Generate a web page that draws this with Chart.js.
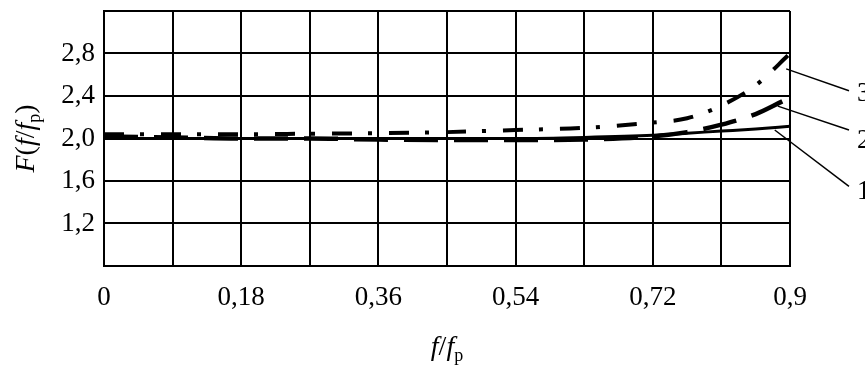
<!DOCTYPE html>
<html>
<head>
<meta charset="utf-8">
<script src="https://cdn.jsdelivr.net/npm/chart.js@4.4.1/dist/chart.umd.min.js"></script>
<style>
  html, body { margin: 0; padding: 0; background: #fff; }
  #wrap { width: 865px; height: 369px; }
</style>
</head>
<body>
<div id="wrap"><canvas id="chart" width="865" height="369"></canvas></div>
<script>
// curves, F(f/fp) against f/fp
var xValues = [0, 0.09, 0.18, 0.27, 0.36, 0.45, 0.54, 0.63, 0.72, 0.765, 0.81, 0.855, 0.9];
var curve1 = [2.0, 2.0, 2.0, 2.0, 2.0, 2.0, 2.0, 2.01, 2.03, 2.05, 2.07, 2.09, 2.115];
var xValues2 = [0, 0.09, 0.18, 0.27, 0.36, 0.45, 0.54, 0.63, 0.72, 0.765, 0.81, 0.855, 0.89];
var curve2 = [2.02, 2.01, 2.0, 2.0, 1.99, 1.985, 1.985, 1.99, 2.02, 2.06, 2.13, 2.23, 2.35];
var curve3 = [2.04, 2.04, 2.04, 2.045, 2.05, 2.06, 2.08, 2.1, 2.15, 2.19, 2.31, 2.5, 2.8];

var xTickLabels = ['0', '0,18', '0,36', '0,54', '0,72', '0,9'];
var yTickLabels = ['', '1,2', '1,6', '2,0', '2,4', '2,8', ''];

// curve numbers on the right and where their leader lines start (data units)
var curveNames = ['1', '2', '3'];
var leaderFromX = [0.88, 0.884, 0.895];
var leaderFromY = [2.08, 2.305, 2.655];
var leaderToY = [1.55, 2.08, 2.45];
var nameY = [1.5, 1.98, 2.42];

var serif = '"Liberation Serif", "Times New Roman", serif';

function pts(xs, ys) {
  return xs.map(function (x, i) { return { x: x, y: ys[i] }; });
}

function drawRich(ctx, parts, x, y) {
  // parts: [text, italic, sub]
  var total = 0;
  parts.forEach(function (p) {
    ctx.font = (p[1] ? 'italic ' : '') + (p[2] ? 18 : 28) + 'px ' + serif;
    p.w = ctx.measureText(p[0]).width;
    total += p.w;
  });
  var cx = x - total / 2;
  parts.forEach(function (p) {
    ctx.font = (p[1] ? 'italic ' : '') + (p[2] ? 18 : 28) + 'px ' + serif;
    ctx.fillText(p[0], cx, p[2] ? y + 6 : y);
    cx += p.w;
  });
}

var extras = {
  id: 'extras',
  afterDatasetsDraw: function (chart) {
    var ctx = chart.ctx;
    var xs = chart.scales.x, ys = chart.scales.y;
    var right = chart.chartArea.right;
    ctx.save();
    ctx.strokeStyle = '#000';
    ctx.lineWidth = 1.5;
    ctx.fillStyle = '#000';
    ctx.font = '27px ' + serif;
    ctx.textAlign = 'left';
    ctx.textBaseline = 'middle';
    for (var i = 0; i < curveNames.length; i++) {
      ctx.beginPath();
      ctx.moveTo(xs.getPixelForValue(leaderFromX[i]), ys.getPixelForValue(leaderFromY[i]));
      ctx.lineTo(right + 59, ys.getPixelForValue(leaderToY[i]));
      ctx.stroke();
      ctx.fillText(curveNames[i], right + 67, ys.getPixelForValue(nameY[i]));
    }
    ctx.restore();
  },
  afterDraw: function (chart) {
    var ctx = chart.ctx;
    var a = chart.chartArea;
    ctx.save();
    ctx.fillStyle = '#000';
    ctx.textBaseline = 'alphabetic';
    drawRich(ctx, [['f', true], ['/', false], ['f', true], ['p', false, true]], (a.left + a.right) / 2, 355);
    ctx.translate(34, (a.top + a.bottom) / 2);
    ctx.rotate(-Math.PI / 2);
    drawRich(ctx, [['F', true], ['(', false], ['f', true], ['/', false], ['f', true], ['p', false, true], [')', false]], 0, 0);
    ctx.restore();
  }
};

new Chart(document.getElementById('chart'), {
  type: 'line',
  data: {
    datasets: [
      { data: pts(xValues, curve1), borderColor: '#000', borderWidth: 3, pointRadius: 0, cubicInterpolationMode: 'monotone' },
      { data: pts(xValues2, curve2), borderColor: '#000', borderWidth: 4.5, borderDash: [34, 16], pointRadius: 0, cubicInterpolationMode: 'monotone' },
      { data: pts(xValues, curve3), borderColor: '#000', borderWidth: 4, borderDash: [20, 16, 4, 17], pointRadius: 0, cubicInterpolationMode: 'monotone' }
    ]
  },
  options: {
    responsive: false,
    animation: false,
    devicePixelRatio: 1,
    layout: { padding: { top: 11, right: 75, left: 0, bottom: 0 } },
    plugins: { legend: { display: false }, tooltip: { enabled: false } },
    scales: {
      x: {
        type: 'linear',
        min: 0, max: 0.9,
        afterFit: function (s) { s.height = 103; s.paddingLeft = 0; s.paddingRight = 0; },
        grid: { color: '#000', lineWidth: 2, drawTicks: false },
        border: { color: '#000', width: 2 },
        ticks: {
          stepSize: 0.09, autoSkip: false, maxRotation: 0, padding: 16,
          color: '#000', font: { family: serif, size: 27 },
          callback: function (v, i) { return i % 2 === 0 ? xTickLabels[i / 2] : ''; }
        }
      },
      y: {
        min: 0.8, max: 3.2,
        afterFit: function (s) { s.width = 104; s.paddingTop = 0; s.paddingBottom = 0; },
        grid: { color: '#000', lineWidth: 2, drawTicks: false },
        border: { color: '#000', width: 2 },
        ticks: {
          stepSize: 0.4, padding: 9,
          color: '#000', font: { family: serif, size: 27 },
          callback: function (v, i) { return yTickLabels[i]; }
        }
      }
    }
  },
  plugins: [extras]
});
</script>
</body>
</html>
